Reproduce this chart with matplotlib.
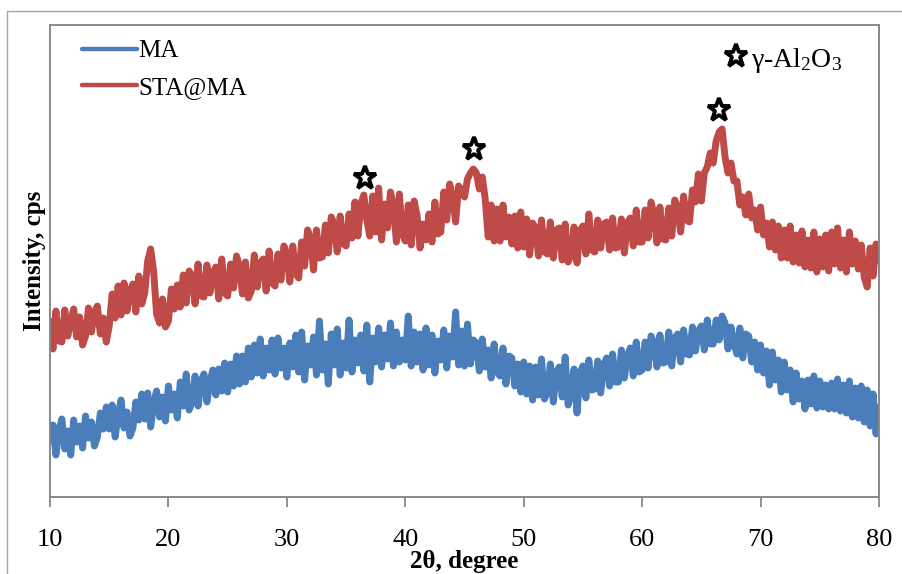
import matplotlib.pyplot as plt
import numpy as np
from matplotlib.patches import Rectangle
from matplotlib.lines import Line2D

plt.rcParams['font.family'] = ['Liberation Serif', 'DejaVu Serif']
plt.rcParams['mathtext.fontset'] = 'custom'
plt.rcParams['mathtext.rm'] = 'Liberation Serif'
plt.rcParams['mathtext.it'] = 'Liberation Serif:italic'

# scan grid, 2theta in degrees (0.25 deg step)
two_theta = np.linspace(10, 80, 281)

# MA intensity (arb. units), 4 points per degree
ma = [56, 72, 42, 66, 78, 48, 66, 42, 77, 55, 71, 49, 81, 59, 75, 51,
      60, 84, 68, 90, 68, 92, 60, 82, 97, 69, 85, 61, 69, 95, 77, 103,
      78, 104, 70, 94, 106, 80, 100, 76, 111, 87, 103, 79, 115, 91, 123, 87,
      95, 121, 91, 115, 123, 95, 115, 127, 102, 128, 106, 134, 105, 133, 111, 141,
      113, 141, 115, 149, 120, 152, 124, 158, 121, 149, 127, 157, 123, 159, 129, 149,
      120, 154, 130, 162, 125, 165, 117, 151, 132, 160, 122, 176, 127, 153, 113, 163,
      132, 168, 122, 154, 129, 177, 125, 157, 134, 162, 126, 172, 115, 159, 135, 169,
      130, 162, 138, 174, 131, 165, 135, 157, 137, 181, 131, 165, 135, 163, 127, 169,
      132, 162, 124, 156, 137, 167, 129, 161, 140, 185, 132, 166, 131, 173, 133, 157,
      154, 126, 158, 130, 147, 119, 153, 125, 121, 149, 113, 141, 139, 111, 133, 105,
      135, 103, 131, 97, 130, 102, 138, 98, 105, 133, 95, 125, 130, 100, 140, 92,
      104, 128, 84, 124, 131, 99, 137, 107, 108, 136, 104, 132, 139, 111, 143, 115,
      115, 147, 119, 141, 149, 121, 155, 125, 127, 155, 129, 161, 154, 130, 162, 134,
      135, 165, 131, 159, 163, 135, 167, 143, 142, 170, 146, 166, 171, 147, 177, 153,
      153, 177, 157, 181, 174, 148, 170, 154, 143, 169, 139, 163, 161, 135, 155, 127,
      152, 124, 146, 112, 145, 117, 137, 105, 135, 107, 127, 95, 124, 98, 116, 88,
      117, 93, 121, 89, 116, 90, 112, 88, 114, 88, 118, 86, 112, 84, 116, 80,
      109, 79, 111, 75, 107, 71, 103, 63, 90]

# STA@MA intensity
sta = [176, 148, 186, 156, 155, 187, 161, 175, 188, 160, 180, 152, 161, 189, 165, 185,
       191, 163, 179, 155, 171, 203, 179, 211, 182, 214, 186, 206, 213, 185, 221, 193,
       204, 236, 248, 226, 183, 174, 198, 170, 176, 208, 188, 212, 190, 222, 194, 226,
       221, 193, 233, 201, 200, 232, 204, 224, 230, 198, 238, 204, 201, 233, 209, 241,
       231, 203, 235, 199, 206, 242, 210, 234, 238, 206, 246, 214, 211, 243, 217, 251,
       243, 215, 251, 223, 219, 255, 231, 267, 259, 227, 267, 239, 240, 272, 244, 280,
       273, 245, 281, 253, 251, 283, 259, 295, 261, 293, 302, 277, 261, 301, 265, 309,
       257, 293, 269, 305, 291, 255, 303, 263, 256, 292, 252, 296, 281, 249, 273, 257,
       283, 255, 295, 263, 265, 305, 277, 313, 299, 275, 311, 307, 300, 318, 324, 328,
       324, 308, 320, 298, 260, 292, 256, 288, 256, 292, 260, 280, 253, 281, 249, 285,
       250, 278, 242, 274, 269, 241, 277, 245, 243, 275, 239, 267, 269, 237, 273, 235,
       242, 270, 234, 266, 271, 243, 283, 247, 245, 277, 249, 273, 275, 247, 279, 249,
       250, 278, 244, 274, 279, 251, 287, 255, 255, 287, 259, 295, 282, 254, 290, 258,
       257, 289, 261, 297, 289, 265, 301, 277, 275, 307, 295, 323, 296, 324, 330, 344,
       334, 356, 365, 368, 340, 324, 334, 316, 316, 292, 300, 282, 303, 279, 287, 267,
       290, 262, 274, 250, 275, 247, 271, 239, 267, 239, 271, 235, 262, 234, 266, 230,
       257, 229, 265, 225, 258, 230, 262, 226, 265, 233, 269, 229, 257, 225, 265, 233,
       256, 228, 252, 220, 210, 249, 221, 253, 236]

# gamma-Al2O3 reflections marked with stars
peak_x = [36.6, 45.8, 66.5]
peak_y = [319, 348, 387]

blue = '#4A7EBB'
red = '#BE4B48'

fig = plt.figure(figsize=(9.02, 5.74), dpi=100)
fig.patches.append(Rectangle((7 / 902, -0.1), 1.2, (574 - 11) / 574 + 0.1,
                             transform=fig.transFigure, fill=False,
                             edgecolor='#a6a6a6', lw=1))
ax = fig.add_axes([50 / 902, 77 / 574, 829 / 902, 472 / 574])

ax.plot(two_theta, ma, color=blue, lw=5.0,
        solid_joinstyle='round', solid_capstyle='round')
ax.plot(two_theta, sta, color=red, lw=5.0,
        solid_joinstyle='round', solid_capstyle='round')
ax.plot(peak_x, peak_y, ls='none', marker='*', ms=17, mfc='white',
        mec='black', mew=2.8)

ax.plot([0.8275], [0.934], transform=ax.transAxes, ls='none', marker='*',
        ms=17, mfc='white', mec='black', mew=2.8, clip_on=False)
ax.text(0.845, 0.925, r'γ-Al$_2$O$_3$', transform=ax.transAxes,
        fontsize=20, va='center', ha='left')

ax.set_xlim(10, 80)
ax.set_ylim(0, 472)
ax.set_xticks(range(10, 81, 10))
ax.set_yticks([])
ax.tick_params(axis='x', direction='out', length=7, width=1.3,
               color='#888888', labelsize=19, pad=16)
for s in ax.spines.values():
    s.set_color('#888888')
    s.set_linewidth(1.4)

ax.set_xlabel('2θ, degree', fontsize=18, fontweight='bold', labelpad=-1)
ax.set_ylabel('Intensity, cps', fontsize=18, fontweight='bold', labelpad=3)

handles = [Line2D([], [], color=blue, lw=3.2, solid_capstyle='round'),
           Line2D([], [], color=red, lw=3.2, solid_capstyle='round')]
ax.legend(handles, ['MA', 'STA@MA'], loc='upper left',
          bbox_to_anchor=(0.024, 0.995), frameon=False,
          fontsize=18, handlelength=2.2, handletextpad=0.05,
          labelspacing=0.55, borderpad=0)

fig.savefig('out.png', dpi=100)
